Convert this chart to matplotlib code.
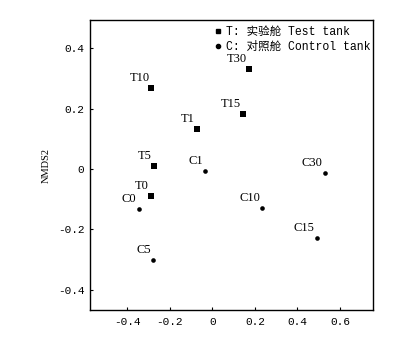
import matplotlib
matplotlib.use('Agg')
import matplotlib.pyplot as plt
from matplotlib.lines import Line2D

# NMDS coordinates
test_names = ['T0', 'T1', 'T5', 'T10', 'T15', 'T30']
test_x = [-0.289, -0.072, -0.275, -0.286, 0.145, 0.173]
test_y = [-0.091, 0.133, 0.010, 0.268, 0.183, 0.332]

ctrl_names = ['C0', 'C1', 'C5', 'C10', 'C15', 'C30']
ctrl_x = [-0.347, -0.033, -0.278, 0.234, 0.491, 0.528]
ctrl_y = [-0.132, -0.007, -0.303, -0.130, -0.229, -0.014]

xticks = [-0.4, -0.2, 0, 0.2, 0.4, 0.6]
yticks = [-0.4, -0.2, 0, 0.2, 0.4]
legend_labels = ['T: 实验舱 Test tank', 'C: 对照舱 Control tank']

mono = ['Liberation Mono', 'Noto Sans CJK SC']
serif = 'Liberation Serif'

fig = plt.figure(figsize=(4.07, 3.40), dpi=100)
ax = fig.add_axes([0.2211, 0.0882, 0.6954, 0.853])

ax.scatter(test_x, test_y, marker='s', s=13, color='black', linewidths=0, zorder=3)
ax.scatter(ctrl_x, ctrl_y, marker='o', s=11, color='black', linewidths=0, zorder=3)

for n, x, y in list(zip(test_names, test_x, test_y)) + list(zip(ctrl_names, ctrl_x, ctrl_y)):
    ax.annotate(n, (x, y), xytext=(-1.5, 3), textcoords='offset points',
                ha='right', va='bottom', fontsize=9, family=serif)

ax.set_xlim(-0.575, 0.755)
ax.set_ylim(-0.468, 0.494)
ax.set_xticks(xticks)
ax.set_yticks(yticks)
ax.set_xticklabels(['0' if v == 0 else f'{v:.1f}' for v in xticks])
ax.set_yticklabels(['0' if v == 0 else f'{v:.1f}' for v in yticks])
ax.tick_params(direction='in', length=2, width=0.8, labelsize=8)
for lab in ax.get_xticklabels() + ax.get_yticklabels():
    lab.set_family(mono)
ax.tick_params(axis='x', pad=5)
ax.tick_params(axis='y', pad=4)
for sp in ax.spines.values():
    sp.set_linewidth(1.0)

ax.set_ylabel('NMDS2', fontsize=7.5, family=serif, labelpad=5)

handles = [Line2D([], [], marker='s', ls='none', color='black', markersize=3.4),
           Line2D([], [], marker='o', ls='none', color='black', markersize=3)]
ax.legend(handles, legend_labels, loc='upper right', frameon=False,
          prop={'family': mono, 'size': 8.3}, handlelength=0.6,
          handletextpad=0.4, borderaxespad=0.0, borderpad=0.5, labelspacing=0.25,
          bbox_to_anchor=(1.012, 1.0))

fig.savefig('out.png', dpi=100)
